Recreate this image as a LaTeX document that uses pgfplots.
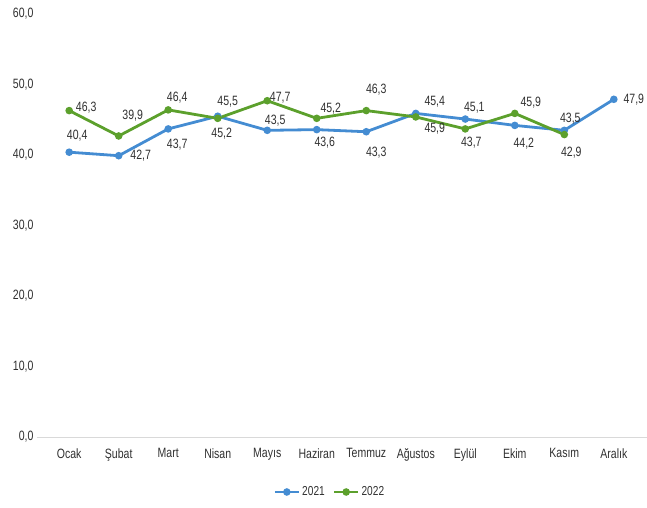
\documentclass[border=0pt]{standalone}
\usepackage{pgfplots}
\pgfplotsset{compat=1.18}
\usepackage{fontspec}
\setmainfont{Liberation Sans}[FakeStretch=0.78]
\definecolor{cblue}{RGB}{68,140,210}
\definecolor{cgreen}{RGB}{92,160,44}
\definecolor{ctext}{RGB}{48,48,48}
\begin{document}
\begin{tikzpicture}
\begin{axis}[
  at={(0,0)}, anchor=south west,
  scale only axis, width=610pt, height=423pt,
  xmin=-0.65, xmax=11.67, ymin=0, ymax=60,
  xtick={0,...,11},
  xticklabels={Ocak,Şubat,Mart,Nisan,Mayıs,Haziran,Temmuz,Ağustos,Eylül,Ekim,Kasım,Aralık},
  ytick={0,10,...,60},
  axis line style={draw=none},
  tick style={draw=none},
  font=\fontsize{13.5}{15}\selectfont\color{ctext},
  yticklabel style={/pgf/number format/.cd, fixed, fixed zerofill, precision=1, use comma, assume math mode=true},
  xticklabel style={yshift=-8pt},
  legend style={at={(axis description cs:0.48,-0.13)}, anchor=center, draw=none, fill=none,
    legend columns=2, font=\fontsize{13}{15}\selectfont\color{ctext},
    /tikz/every even column/.append style={column sep=6pt}},
  legend image code/.code={\draw[#1, mark repeat=2, mark phase=2] plot coordinates {(0pt,0pt) (12pt,0pt) (24pt,0pt)};},
  clip=false,
]
\draw[gray!30, line width=0.8pt] (axis cs:-0.65,0) -- (axis cs:11.67,0);
\addplot[cblue, line width=2.8pt, mark=*, mark size=2.3pt] coordinates {
 (0,40.4) (1,39.9) (2,43.7) (3,45.5) (4,43.5) (5,43.6) (6,43.3) (7,45.9) (8,45.1) (9,44.2) (10,43.5) (11,47.9)};
\addlegendentry{2021}
\addplot[cgreen, line width=2.8pt, mark=*, mark size=2.3pt] coordinates {
 (0,46.3) (1,42.7) (2,46.4) (3,45.2) (4,47.7) (5,45.2) (6,46.3) (7,45.4) (8,43.7) (9,45.9) (10,42.9)};
\addlegendentry{2022}
% data labels
\node[xshift=17pt,yshift=3pt] at (axis cs:0,46.3) {46,3};
\node[xshift=8pt,yshift=17pt] at (axis cs:0,40.4) {40,4};
\node[xshift=14pt,yshift=20pt] at (axis cs:1,42.7) {39,9};
\node[xshift=22pt,yshift=0pt] at (axis cs:1,39.9) {42,7};
\node[xshift=9pt,yshift=12pt] at (axis cs:2,46.4) {46,4};
\node[xshift=9pt,yshift=-16pt] at (axis cs:2,43.7) {43,7};
\node[xshift=10pt,yshift=15pt] at (axis cs:3,45.5) {45,5};
\node[xshift=4pt,yshift=-15pt] at (axis cs:3,45.2) {45,2};
\node[xshift=13pt,yshift=3pt] at (axis cs:4,47.7) {47,7};
\node[xshift=8pt,yshift=10pt] at (axis cs:4,43.5) {43,5};
\node[xshift=14pt,yshift=10pt] at (axis cs:5,45.2) {45,2};
\node[xshift=8pt,yshift=-13pt] at (axis cs:5,43.6) {43,6};
\node[xshift=10pt,yshift=21pt] at (axis cs:6,46.3) {46,3};
\node[xshift=10pt,yshift=-21pt] at (axis cs:6,43.3) {43,3};
\node[xshift=19pt,yshift=12pt] at (axis cs:7,45.9) {45,4};
\node[xshift=19pt,yshift=-12pt] at (axis cs:7,45.4) {45,9};
\node[xshift=9pt,yshift=11pt] at (axis cs:8,45.1) {45,1};
\node[xshift=6pt,yshift=-14pt] at (axis cs:8,43.7) {43,7};
\node[xshift=16pt,yshift=11pt] at (axis cs:9,45.9) {45,9};
\node[xshift=9pt,yshift=-18pt] at (axis cs:9,44.2) {44,2};
\node[xshift=6pt,yshift=12pt] at (axis cs:10,43.5) {43,5};
\node[xshift=7pt,yshift=-18pt] at (axis cs:10,42.9) {42,9};
\node[xshift=20pt,yshift=0pt] at (axis cs:11,47.9) {47,9};
\end{axis}
\pgfresetboundingbox
\useasboundingbox (-37pt,-70pt) rectangle (610pt,437pt);
\end{tikzpicture}
\end{document}
